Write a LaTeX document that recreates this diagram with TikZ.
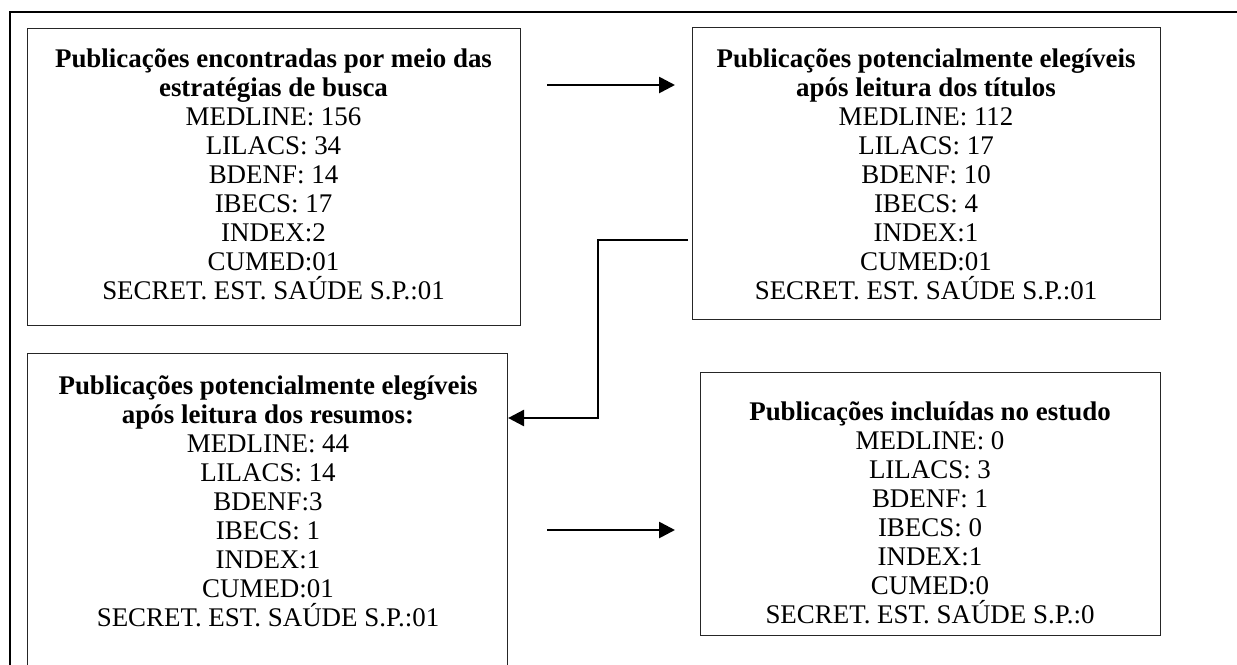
\documentclass[tikz,border=0pt]{standalone}
\usepackage{fontspec}
\setmainfont{Liberation Serif}
\usetikzlibrary{arrows.meta}
\begin{document}
\begin{tikzpicture}[x=0.75pt,y=-0.75pt,
  boxnode/.style={draw=black!85, line width=0.8pt, anchor=north west, inner sep=0pt},
  txt/.style={align=center, inner sep=0pt, font=\fontsize{20.2}{21.75}\selectfont},
  arr/.style={line width=2pt, -{Triangle[length=12pt,width=12pt]}},
  frame/.style={line width=1.6pt}]
\useasboundingbox (0,0) rectangle (1237,664);
% outer frame (top and left visible)
\coordinate (ftl) at (10,12);
\coordinate (ftr) at (1240,12);
\coordinate (fbl) at (10,670);
\draw[frame] (fbl) -- (ftl) -- (ftr);
% boxes
\node[boxnode, minimum width=369.75pt, minimum height=222.75pt] (b1) at (27,28) {};
\node[boxnode, minimum width=351pt, minimum height=219pt] (b2) at (692,27) {};
\node[boxnode, minimum width=360pt, minimum height=260pt] (b3) at (27,353) {};
\node[boxnode, minimum width=345pt, minimum height=197.25pt] (b4) at (700,372) {};
% texts
\node[txt] (t1) at (273.5,174) {\textbf{Publicações encontradas por meio das}\\\textbf{estratégias de busca}\\MEDLINE: 156\\LILACS: 34\\BDENF: 14\\IBECS: 17\\INDEX:2\\CUMED:01\\SECRET. EST. SAÚDE S.P.:01};
\node[txt] (t2) at (926,174) {\textbf{Publicações potencialmente elegíveis}\\\textbf{após leitura dos títulos}\\MEDLINE: 112\\LILACS: 17\\BDENF: 10\\IBECS: 4\\INDEX:1\\CUMED:01\\SECRET. EST. SAÚDE S.P.:01};
\node[txt] (t3) at (268,501) {\textbf{Publicações potencialmente elegíveis}\\\textbf{após leitura dos resumos:}\\MEDLINE: 44\\LILACS: 14\\BDENF:3\\IBECS: 1\\INDEX:1\\CUMED:01\\SECRET. EST. SAÚDE S.P.:01};
\node[txt] (t4) at (930,513) {\textbf{Publicações incluídas no estudo}\\MEDLINE: 0\\LILACS: 3\\BDENF: 1\\IBECS: 0\\INDEX:1\\CUMED:0\\SECRET. EST. SAÚDE S.P.:0};
% connectors
\coordinate (a1s) at (547,85);
\coordinate (a1e) at (675,85);
\draw[arr] (a1s) -- (a1e);
\coordinate (a2s) at (547,530);
\coordinate (a2e) at (675,530);
\draw[arr] (a2s) -- (a2e);
\coordinate (e1) at (688,240);
\coordinate (e2) at (598,418);
\draw[arr] (e1) -| (e2) -- (b3.east |- e2);
\end{tikzpicture}
\end{document}
